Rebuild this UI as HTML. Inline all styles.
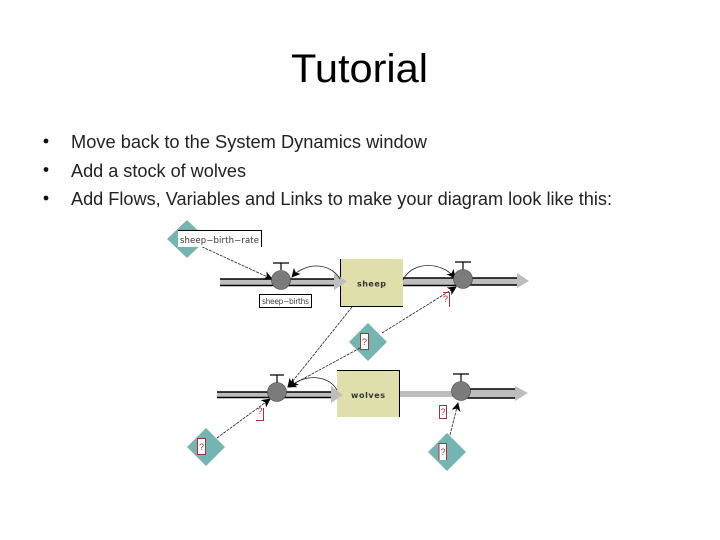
<!DOCTYPE html>
<html>
<head>
<meta charset="utf-8">
<style>
html,body{margin:0;padding:0;background:#fff;width:720px;height:540px;overflow:hidden}
svg{display:block}
text{font-family:"Liberation Sans",sans-serif}
.d{font-family:"DejaVu Sans",sans-serif}
</style>
</head>
<body>
<svg width="720" height="540" viewBox="0 0 720 540" xmlns="http://www.w3.org/2000/svg">
<defs>
<marker id="a" viewBox="0 0 10 10" refX="9" refY="5" markerWidth="11" markerHeight="9" orient="auto" markerUnits="userSpaceOnUse"><path d="M0 0L10 5L0 10L2.5 5Z" fill="#000"/></marker>
</defs>

<text x="291" y="82" font-size="40" textLength="137" lengthAdjust="spacingAndGlyphs" fill="#000">Tutorial</text>

<g font-size="18" fill="#222">
<circle cx="46" cy="141" r="2.4" fill="#111"/>
<circle cx="46" cy="169.5" r="2.4" fill="#111"/>
<circle cx="46" cy="198" r="2.4" fill="#111"/>
<text x="71" y="148" textLength="356" lengthAdjust="spacingAndGlyphs">Move back to the System Dynamics window</text>
<text x="71" y="177" textLength="175" lengthAdjust="spacingAndGlyphs">Add a stock of wolves</text>
<text x="71" y="205" textLength="541" lengthAdjust="spacingAndGlyphs">Add Flows, Variables and Links to make your diagram look like this:</text>
</g>

<!-- stocks -->
<rect x="340" y="259" width="63" height="47" fill="#dfdfab"/>
<path d="M340.5 259V306.5H403" fill="none" stroke="#000" stroke-width="1"/>
<rect x="337" y="370" width="63" height="47" fill="#dfdfab"/>
<path d="M337 370.5H399.5V417" fill="none" stroke="#000" stroke-width="1"/>

<!-- pipes -->
<path d="M220 279H334V273L347 281.5L334 290V285.5H220Z" fill="#bdbdbd"/>
<path d="M220 279H334M334 285.5H220" fill="none" stroke="#000" stroke-width="1.5"/>
<path d="M403 278H463V285.5H403Z" fill="#bdbdbd"/>
<path d="M403 278H463M403 285.5H463" stroke="#000" stroke-width="1.5"/>
<path d="M463 278H517V273L529 281L517 288V285H463Z" fill="#bdbdbd"/>
<path d="M463 278H517M517 285H463" stroke="#000" stroke-width="1.5"/>

<path d="M217 392H331V386L343 395L331 403V397.5H217Z" fill="#bdbdbd"/>
<path d="M217 392H331M331 397.5H217" fill="none" stroke="#000" stroke-width="1.5"/>
<rect x="400" y="391" width="55" height="6" fill="#bdbdbd"/>
<path d="M461 389H515V386L528 393L515 401V398H461Z" fill="#bdbdbd"/>
<path d="M461 389H515M515 398H461" stroke="#000" stroke-width="1.5"/>

<!-- diamonds -->
<g fill="#74b5b2">
<path d="M187 220L207 239L187 258L167 239Z"/>
<path d="M368 323L387 342L368 361L349 342Z"/>
<path d="M206 428L225 447L206 466L187 447Z"/>
<path d="M447 433L466 452L447 471L428 452Z"/>
</g>

<!-- links -->
<g fill="none" stroke="#222" stroke-width="0.8">
<path d="M198 245L272 279" stroke-dasharray="3 1" marker-end="url(#a)"/>
<path d="M352 307L288 387" stroke-dasharray="3 1" marker-end="url(#a)"/>
<path d="M360 348L288 387" stroke-dasharray="3 1" marker-end="url(#a)"/>
<path d="M382 333L456 287" stroke-dasharray="3 1" marker-end="url(#a)"/>
<path d="M217 438L270 399" stroke-dasharray="3 1" marker-end="url(#a)"/>
<path d="M450 435L458 403" stroke-dasharray="3 1" marker-end="url(#a)"/>
<path d="M340 279C330 262 305 262 292 277" marker-end="url(#a)"/>
<path d="M403 280C412 261 442 261 455 278" marker-end="url(#a)"/>
<path d="M337 390C328 374 303 374 290 387" marker-end="url(#a)"/>
</g>

<!-- valves -->
<path d="M281 270V263M273 263H289M463 270V262M455 262H471M277 383V375M270 375H284M461 382V374M453 374H469" stroke="#000" stroke-width="1.2" fill="none"/>
<g fill="#7b7b7b" stroke="#444" stroke-width="0.6">
<circle cx="281" cy="280" r="9.5"/>
<circle cx="463" cy="279" r="9.5"/>
<circle cx="277" cy="392" r="9.5"/>
<circle cx="461" cy="391" r="9.5"/>
</g>

<!-- labels -->
<rect x="178" y="231" width="84" height="16" fill="#fff"/>
<path d="M178 230.5H261.5V247" fill="none" stroke="#000" stroke-width="1"/>
<text class="d" x="180" y="243" font-size="8.5" fill="#333" textLength="79" lengthAdjust="spacing">sheep−birth−rate</text>

<rect x="259.5" y="294.5" width="52" height="13" fill="#fff" stroke="#000" stroke-width="1"/>
<text class="d" x="262" y="304" font-size="7.5" fill="#444" textLength="47" lengthAdjust="spacing">sheep−births</text>

<text class="d" x="357" y="286.5" font-size="8" font-weight="bold" fill="#333" textLength="29" lengthAdjust="spacing">sheep</text>
<text class="d" x="351" y="398" font-size="8" font-weight="bold" fill="#333" textLength="34" lengthAdjust="spacing">wolves</text>

<!-- red ? boxes -->
<g fill="#fff" stroke="#a5333f" stroke-width="1">
<rect x="360.5" y="333.5" width="8" height="16"/>
<rect x="197.5" y="438.5" width="8" height="16"/>
<rect x="439.5" y="405.5" width="7" height="13"/>
</g>
<rect x="439" y="443" width="8" height="17" fill="#fff"/>
<path d="M439 460V443.5H446.5V460" fill="none" stroke="#a5333f"/>
<path d="M443 292.5H449.5V307M256 420.5H263.5V408" fill="none" stroke="#a5333f"/>
<g font-size="9" fill="#a5333f" text-anchor="middle">
<text x="364.5" y="345">?</text>
<text x="201.5" y="450">?</text>
<text x="443" y="415">?</text>
<text x="443" y="455">?</text>
<text x="445.5" y="302">?</text>
<text x="260" y="414">?</text>
</g>
</svg>
</body>
</html>
